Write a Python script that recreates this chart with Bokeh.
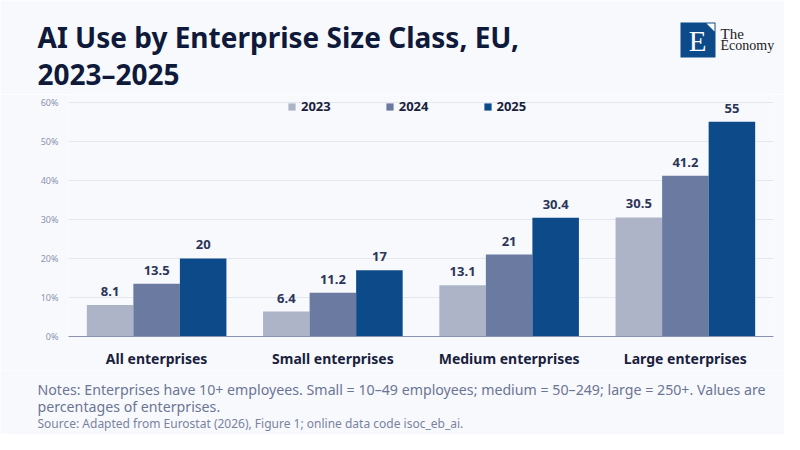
from bokeh.plotting import figure
from bokeh.layouts import column
from bokeh.models import (Range1d, FactorRange, LabelSet, Label, ColumnDataSource,
                          PrintfTickFormatter)
from bokeh.core.properties import value
from bokeh.transform import dodge
from bokeh.embed import file_html
from bokeh.resources import INLINE

# Data: share of enterprises using AI (%), EU
categories = ["All enterprises", "Small enterprises", "Medium enterprises", "Large enterprises"]
years = ["2023", "2024", "2025"]
v2023 = [8.1, 6.4, 13.1, 30.5]
v2024 = [13.5, 11.2, 21.0, 41.2]
v2025 = [20.0, 17.0, 30.4, 55.0]
colors = ["#adb4c7", "#6a7aa0", "#0d4a8a"]

BG = "#f8f9fd"
FONT = "Noto Sans"
W = 784


def blank(h):
    # figure used only as a canvas for text; y runs downward in pixels
    f = figure(width=W, height=h, x_range=Range1d(0, W), y_range=Range1d(h, 0),
               x_axis_type=None, y_axis_type=None, output_backend="svg",
               toolbar_location=None, min_border=0)
    f.background_fill_color = BG
    f.border_fill_color = BG
    f.outline_line_color = None
    f.xgrid.visible = False
    f.ygrid.visible = False
    f.frame_align = False
    return f


# ---- header: title and logo
head = blank(94)
for txt, yy in [("AI Use by Enterprise Size Class, EU,", 36), ("2023\u20132025", 73)]:
    head.add_layout(Label(x=37, y=yy, text=txt, text_font=FONT, text_font_size="28px",
                          text_font_style="bold", text_color="#0f1a3a",
                          text_baseline="alphabetic"))
head.quad(left=680, right=715, top=22, bottom=57, fill_color="#0d4a8a", line_color=None)
head.patch([706, 714, 714], [23, 23, 31], fill_color="white", line_color=None)
head.add_layout(Label(x=697, y=40, text="E", text_font="Liberation Serif",
                      text_font_size="29px", text_color="white",
                      text_align="center", text_baseline="middle"))
head.add_layout(Label(x=720, y=33, text="The", text_font="Liberation Serif",
                      text_font_size="15px", text_color="#222222", text_baseline="alphabetic"))
head.add_layout(Label(x=720, y=45, text="Economy", text_font="Liberation Serif",
                      text_font_size="14px", text_color="#222222", text_baseline="alphabetic"))

# ---- main chart
source = ColumnDataSource(data=dict(
    cat=categories,
    y2023=v2023, y2024=v2024, y2025=v2025,
    t2023=[f"{v:g}" for v in v2023],
    t2024=[f"{v:g}" for v in v2024],
    t2025=[f"{v:g}" for v in v2025],
))

p = figure(x_range=FactorRange(*categories), y_range=Range1d(0, 62),
           width=W, height=276, output_backend="svg", toolbar_location=None,
           min_border_left=68, min_border_right=11, min_border_top=0, min_border_bottom=31)
p.background_fill_color = BG
p.border_fill_color = BG
p.outline_line_color = None
p.frame_align = False

bw = 0.264
offsets = [-bw, 0, bw]
for yr, off, col in zip(years, offsets, colors):
    p.vbar(x=dodge("cat", off, range=p.x_range), top="y" + yr, width=bw,
           color=col, line_color=None, legend_label=yr, source=source)
    p.add_layout(LabelSet(x=dodge("cat", off, range=p.x_range), y="y" + yr, text="t" + yr,
                          source=source, text_align="center", text_baseline="bottom",
                          y_offset=9, text_font=value(FONT), text_font_size="13px",
                          text_font_style="bold", text_color="#2b3558"))

p.xgrid.grid_line_color = None
p.ygrid.grid_line_color = "#e4e7ef"
p.yaxis.ticker = [0, 10, 20, 30, 40, 50, 60]
p.yaxis.formatter = PrintfTickFormatter(format="%d%%")
p.yaxis.axis_line_color = None
p.yaxis.major_tick_line_color = None
p.yaxis.major_tick_out = 0
p.yaxis.minor_tick_line_color = None
p.yaxis.major_label_text_font = FONT
p.yaxis.major_label_text_font_size = "9px"
p.yaxis.major_label_text_color = "#8a93ad"
p.yaxis.major_label_standoff = 10

p.xaxis.axis_line_color = "#8a93ad"
p.xaxis.major_tick_line_color = None
p.xaxis.major_tick_out = 0
p.xaxis.minor_tick_line_color = None
p.xaxis.major_label_text_font = FONT
p.xaxis.major_label_text_font_size = "14px"
p.xaxis.major_label_text_font_style = "bold"
p.xaxis.major_label_text_color = "#1a1f3d"
p.xaxis.major_label_standoff = 12

lg = p.legend[0]
lg.orientation = "horizontal"
lg.location = (219, 221)
lg.background_fill_alpha = 0
lg.border_line_color = None
lg.padding = 0
lg.margin = 0
lg.spacing = 54
lg.glyph_width = 9
lg.glyph_height = 9
lg.label_height = 16
lg.label_standoff = 5
lg.label_text_font = FONT
lg.label_text_font_size = "13px"
lg.label_text_font_style = "bold"
lg.label_text_color = "#1a1f3d"

# ---- footer: notes and source
foot = blank(64)
notes = [
    ("Notes: Enterprises have 10+ employees. Small = 10\u201349 employees; medium = 50\u2013249; large = 250+. Values are", 19, "14.2px", "#6b7594"),
    ("percentages of enterprises.", 36, "14.2px", "#6b7594"),
    ("Source: Adapted from Eurostat (2026), Figure 1; online data code isoc_eb_ai.", 53, "12px", "#7a839e"),
]
for txt, yy, fs, col in notes:
    foot.add_layout(Label(x=37, y=yy, text=txt, text_font=FONT, text_font_size=fs,
                          text_color=col, text_baseline="alphabetic"))

layout = column(head, p, foot, spacing=0)
open("out.html", "w").write(file_html(layout, INLINE))
